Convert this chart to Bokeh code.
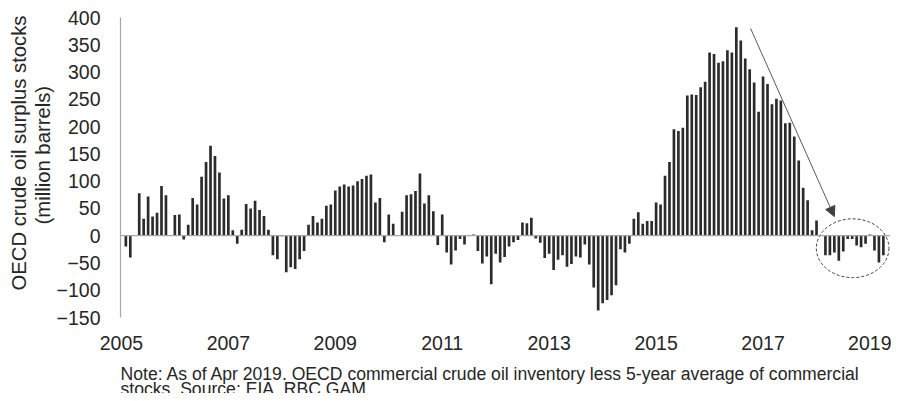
from bokeh.plotting import figure
from bokeh.layouts import column
from bokeh.models import FixedTicker, Span, Title, Label, Arrow, NormalHead, ColumnDataSource, Range1d
from bokeh.embed import file_html
from bokeh.resources import INLINE

# ---- data (million barrels), monthly Jan 2005 .. Apr 2019 ----
start_year = 2005
surplus = [
    0, -20, -40, 0, 78, 31, 72, 35, 42, 91, 74, 0,            # 2005
    38, 39, -7, 20, 69, 57, 108, 135, 165, 146, 116, 68,      # 2006
    74, 10, -15, 11, 58, 50, 64, 47, 36, 11, -36, -43,        # 2007
    -1, -67, -58, -61, -43, -28, 20, 36, 24, 31, 55, 57,      # 2008
    83, 90, 94, 90, 92, 100, 104, 110, 112, 61, 69, -12,      # 2009
    39, 22, 0, 44, 74, 76, 82, 114, 59, 74, 45, -17,          # 2010
    39, -31, -53, -27, -6, -16, 0, 2, -28, -51, -38, -89,     # 2011
    -33, -49, -39, -20, -12, -8, 24, 23, 33, -5, -13, -41,    # 2012
    -33, -63, -44, -36, -57, -52, -38, -40, -16, -53, -95, -137,  # 2013
    -124, -118, -109, -91, -25, -31, -15, 31, 43, 22, 27, 27,     # 2014
    61, 57, 110, 135, 195, 192, 198, 257, 259, 258, 272, 282,     # 2015
    336, 333, 317, 320, 340, 336, 382, 358, 325, 305, 281, 227,   # 2016
    292, 278, 241, 251, 248, 206, 207, 182, 138, 88, 65, 10,      # 2017
    28, 0, -36, -36, -31, -46, -29, -6, -6, -18, -21, -15,        # 2018
    2, -27, -49, -36,                                             # 2019
]
year_labels = ["2005", "2007", "2009", "2011", "2013", "2015", "2017", "2019"]
y_ticks = [-150, -100, -50, 0, 50, 100, 150, 200, 250, 300, 350, 400]
y_title = ["OECD crude oil surplus stocks", "(million barrels)"]
note_lines = ["Note: As of Apr 2019. OECD commercial crude oil inventory less 5-year average of commercial",
              "stocks. Source: EIA. RBC GAM"]

month_idx = list(range(len(surplus)))
tick_pos = [(int(y) - start_year) * 12 for y in year_labels]

# annotation geometry (data units)
arrow_start = (141.2, 380)
arrow_end = (160.0, 35)
ell_center = (164.1, -23)
ell_size = (16.3, 108)

FONT = "Liberation Sans"
TXT = "#262626"
FRAME_W, LEFT_B, RIGHT_B = 770, 120, 1
TOP_B, FRAME_H, BOTTOM_B = 17, 300, 43
NOTE_H = 393 - TOP_B - FRAME_H - BOTTOM_B

src = ColumnDataSource(dict(x=month_idx, top=surplus))

p = figure(frame_width=FRAME_W, frame_height=FRAME_H, output_backend="svg", toolbar_location=None,
           x_range=Range1d(-0.2, 172.6), y_range=Range1d(-150, 400),
           min_border_left=LEFT_B, min_border_right=RIGHT_B, min_border_top=TOP_B,
           min_border_bottom=BOTTOM_B)
p.outline_line_color = None
p.xgrid.visible = False
p.ygrid.visible = False
p.background_fill_color = "white"

p.vbar(x="x", top="top", bottom=0, width=0.6, source=src,
       fill_color="#2b2b2b", line_color=None)

p.add_layout(Span(location=0, dimension="width", line_color="#a6a6a6", line_width=1.2))

# axes
xa = p.xaxis[0]
xa.ticker = FixedTicker(ticks=tick_pos)
xa.major_label_overrides = {t: l for t, l in zip(tick_pos, year_labels)}
xa.axis_line_color = None
xa.major_tick_line_color = None
xa.minor_tick_line_color = None
xa.major_tick_out = 0
xa.major_tick_in = 0
xa.major_label_standoff = 18
xa.major_label_text_line_height = 1.0
xa.major_label_text_font = FONT
xa.major_label_text_font_size = "19.5px"
xa.major_label_text_color = TXT

ya = p.yaxis[0]
ya.ticker = FixedTicker(ticks=y_ticks)
ya.axis_line_color = "#a6a6a6"
ya.axis_line_width = 1.2
ya.major_tick_line_color = None
ya.minor_tick_line_color = None
ya.major_tick_out = 0
ya.major_tick_in = 0
ya.major_label_standoff = 20
ya.major_label_text_font = FONT
ya.major_label_text_font_size = "19.5px"
ya.major_label_text_color = TXT

# y-axis title (two lines, stacked outward from the axis)
for txt, off in [(y_title[1], 93), (y_title[0], 27)]:
    p.add_layout(Title(text=txt, align="left", offset=off, standoff=0,
                       text_font=FONT, text_font_size="20.3px", text_font_style="normal",
                       text_color=TXT), "left")

# arrow and dashed ellipse
p.add_layout(Arrow(end=NormalHead(size=10, fill_color="#404040", line_color="#404040"),
                   x_start=arrow_start[0], y_start=arrow_start[1],
                   x_end=arrow_end[0], y_end=arrow_end[1],
                   line_color="#595959", line_width=1))
p.ellipse(x=[ell_center[0]], y=[ell_center[1]], width=[ell_size[0]], height=[ell_size[1]],
          fill_color=None, line_color="#404040", line_dash="3 2", line_width=1)

# note strip below the chart; its frame lines up with the chart frame (pixel units from frame left/bottom)
q = figure(frame_width=FRAME_W, frame_height=NOTE_H, output_backend="svg", toolbar_location=None,
           x_range=Range1d(0, FRAME_W), y_range=Range1d(0, NOTE_H),
           min_border_left=LEFT_B, min_border_right=RIGHT_B, min_border_top=0, min_border_bottom=0)
q.axis.visible = False
q.grid.visible = False
q.outline_line_color = None
q.title.visible = False
for txt, yb in zip(note_lines, [NOTE_H - 13, 4.5]):
    q.add_layout(Label(x=0, y=yb, text=txt, text_align="left", text_baseline="alphabetic",
                       text_font=FONT, text_font_size="17.6px", text_color=TXT))

layout = column(p, q, spacing=0)
open("out.html", "w").write(file_html(layout, INLINE))
